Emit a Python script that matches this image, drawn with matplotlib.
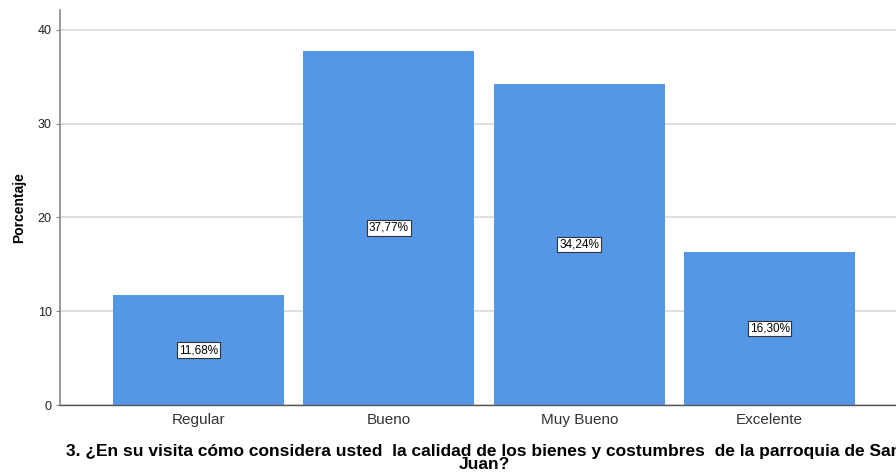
import matplotlib
matplotlib.use("Agg")
import matplotlib.pyplot as plt

categories = ["Regular", "Bueno", "Muy Bueno", "Excelente"]
values = [11.68, 37.77, 34.24, 16.30]
labels = ["11,68%", "37,77%", "34,24%", "16,30%"]
yticks = [0, 10, 20, 30, 40]

plt.rcParams['font.family'] = ['Liberation Sans', 'DejaVu Sans']

fig = plt.figure(figsize=(8.96, 4.72), dpi=100)
ax = fig.add_axes([60/896, 67/472, 848/896, 395/472])

x = list(range(len(categories)))
ax.bar(x, values, width=0.9, color="#5596E6", zorder=2)
for xi, v, lab in zip(x, values, labels):
    ax.text(xi, v/2, lab, ha="center", va="center", fontsize=8.5, zorder=3,
            bbox=dict(boxstyle="square,pad=0.15", fc="white", ec="#333333", lw=0.8))

ax.set_xlim(-0.727, 3.727)
ax.set_ylim(0, 42.1)
ax.set_yticks(yticks)
ax.set_yticklabels([str(t) for t in yticks], fontsize=9, color="#222222")
ax.set_xticks(x)
ax.set_xticklabels(categories, fontsize=11, color="#333333")
ax.tick_params(axis="x", length=0, pad=6)
ax.tick_params(axis="y", length=3, color="#888888", pad=3)
ax.yaxis.grid(True, color="#D9D9D9", lw=1.2, zorder=0)
ax.set_axisbelow(True)
for s in ["top", "right"]:
    ax.spines[s].set_visible(False)
ax.spines["left"].set_color("#888888")
ax.spines["left"].set_linewidth(1.2)
ax.spines["bottom"].set_color("#555555")
ax.spines["bottom"].set_linewidth(1.0)

ax.set_ylabel("Porcentaje", fontsize=10, fontweight="bold", labelpad=8)
ax.set_xlabel("3. ¿En su visita cómo considera usted  la calidad de los bienes y costumbres  de la parroquia de San\nJuan?",
              fontsize=12.5, fontweight="bold", labelpad=12, linespacing=0.85)

fig.savefig("out.png", dpi=100)
